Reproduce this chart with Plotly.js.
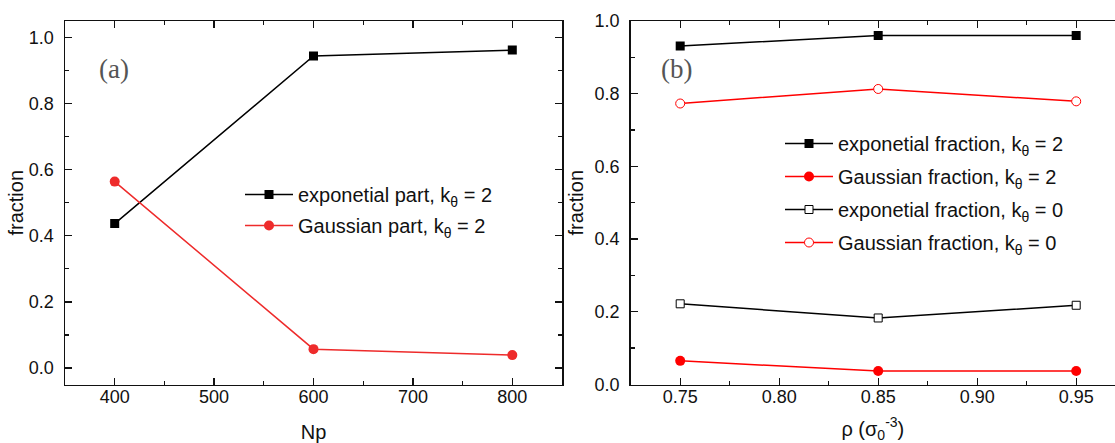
<!DOCTYPE html>
<html>
<head>
<meta charset="utf-8">
<script src="https://cdn.plot.ly/plotly-3.0.1.min.js"></script>
<style>html,body{margin:0;padding:0;background:#fff;}#chart{width:1115px;height:443px;}</style>
</head>
<body>
<div id="chart"></div>
<script>
// Panel (a)
const npValues = [400, 600, 800];
const expPartK2 = [0.437, 0.944, 0.962];
const gaussPartK2 = [0.564, 0.057, 0.039];

// Panel (b)
const rhoValues = [0.75, 0.85, 0.95];
const expFracK2 = [0.931, 0.960, 0.960];
const gaussFracK2 = [0.065, 0.037, 0.037];
const expFracK0 = [0.222, 0.183, 0.218];
const gaussFracK0 = [0.773, 0.813, 0.779];

const legendLabelsA = ["exponetial part, k<sub>θ</sub> = 2", "Gaussian part, k<sub>θ</sub> = 2"];
const legendLabelsB = [
  "exponetial fraction, k<sub>θ</sub> = 2",
  "Gaussian fraction, k<sub>θ</sub> = 2",
  "exponetial fraction, k<sub>θ</sub> = 0",
  "Gaussian fraction, k<sub>θ</sub> = 0"
];

const W = 1115, H = 443;
const redA = '#ee2b2b';
const redB = '#ff0000';

const traces = [
  {x: npValues, y: expPartK2, name: legendLabelsA[0], xaxis: 'x', yaxis: 'y', legend: 'legend', legendgroup: 'a1',
   mode: 'lines+markers', line: {color: '#000', width: 1.5}, marker: {symbol: 'square', size: 9, color: '#000'}},
  {x: npValues, y: gaussPartK2, name: legendLabelsA[1], xaxis: 'x', yaxis: 'y', legend: 'legend', legendgroup: 'a2',
   mode: 'lines+markers', line: {color: redA, width: 1.5}, marker: {symbol: 'circle', size: 10, color: redA}},
  {x: rhoValues, y: expFracK2, name: legendLabelsB[0], xaxis: 'x2', yaxis: 'y2', legend: 'legend2', legendgroup: 'b1',
   mode: 'lines+markers', line: {color: '#000', width: 1.5}, marker: {symbol: 'square', size: 9, color: '#000'}},
  {x: rhoValues, y: gaussFracK2, name: legendLabelsB[1], xaxis: 'x2', yaxis: 'y2', legend: 'legend2', legendgroup: 'b2',
   mode: 'lines+markers', line: {color: redB, width: 1.5}, marker: {symbol: 'circle', size: 10, color: redB}},
  {x: rhoValues, y: expFracK0, name: legendLabelsB[2], xaxis: 'x2', yaxis: 'y2', legend: 'legend2', legendgroup: 'b3',
   mode: 'lines+markers', line: {color: '#000', width: 1.5}, marker: {symbol: 'square', size: 8, color: '#fff', line: {color: '#000', width: 1}}},
  {x: rhoValues, y: gaussFracK0, name: legendLabelsB[3], xaxis: 'x2', yaxis: 'y2', legend: 'legend2', legendgroup: 'b4',
   mode: 'lines+markers', line: {color: redB, width: 1.5}, marker: {symbol: 'circle', size: 9, color: '#fff', line: {color: redB, width: 1}}}
];

const font = {family: 'Liberation Sans, Arial, sans-serif', size: 18, color: '#111'};
const legFont = {family: 'Liberation Sans, Arial, sans-serif', size: 20, color: '#111'};
const titleFont = {family: 'Liberation Sans, Arial, sans-serif', size: 20, color: '#111'};

function ax(extra) {
  return Object.assign({
    showgrid: false, zeroline: false, showline: true, linecolor: '#111', linewidth: 1.5,
    ticks: 'inside', ticklen: 7, tickwidth: 1.3, tickcolor: '#111',
    tickfont: font, ticklabelstandoff: 6, automargin: false
  }, extra);
}

const y0 = 1 - 384.5 / H, y1 = 1 - 21 / H;
const minorBase = {ticks: 'inside', ticklen: 4, tickwidth: 1.3, tickcolor: '#111'};

const layout = {
  width: W, height: H,
  margin: {l: 0, r: 0, t: 0, b: 0},
  paper_bgcolor: '#fff', plot_bgcolor: '#fff',
  font: font,
  showlegend: true,
  xaxis: ax({domain: [65 / W, 562 / W], range: [350, 850], tickvals: [400, 500, 600, 700, 800],
    minor: Object.assign({dtick: 50, tick0: 350}, minorBase), ticklabelstandoff: -5,
    mirror: 'ticks', anchor: 'y',
    title: {text: 'Np', font: titleFont, standoff: 19}}),
  yaxis: ax({domain: [y0, y1], range: [-0.05, 1.05], tickvals: [0, 0.2, 0.4, 0.6, 0.8, 1.0], tickformat: '.1f',
    minor: Object.assign({dtick: 0.1, tick0: 0}, minorBase),
    mirror: 'ticks', anchor: 'x',
    title: {text: 'fraction', font: titleFont, standoff: 0}}),
  xaxis2: ax({domain: [630.7 / W, 1], range: [0.725, 0.9696], tickvals: [0.75, 0.80, 0.85, 0.90, 0.95], tickformat: '.2f',
    minor: Object.assign({dtick: 0.025, tick0: 0.725}, minorBase), ticklabelstandoff: -5,
    mirror: 'ticks', anchor: 'y2',
    title: {text: 'ρ (σ<sub>0</sub><sup>-3</sup>)', font: titleFont, standoff: 17}}),
  yaxis2: ax({domain: [y0, y1], range: [0, 1], tickvals: [0, 0.2, 0.4, 0.6, 0.8, 1.0], tickformat: '.1f',
    minor: Object.assign({dtick: 0.1, tick0: 0}, minorBase),
    mirror: false, anchor: 'x2',
    title: {text: 'fraction', font: titleFont, standoff: 5}}),
  legend: {x: 240 / W, y: 1 - 175 / H, xref: 'paper', yref: 'paper', xanchor: 'left', yanchor: 'top',
    bgcolor: 'rgba(0,0,0,0)', font: legFont, itemwidth: 48, tracegroupgap: 2},
  legend2: {x: 780 / W, y: 1 - 124 / H, xref: 'paper', yref: 'paper', xanchor: 'left', yanchor: 'top',
    bgcolor: 'rgba(0,0,0,0)', font: legFont, itemwidth: 48, tracegroupgap: 4},
  annotations: [
    {text: '(a)', x: 97 / W, y: 1 - 69 / H, xref: 'paper', yref: 'paper', xanchor: 'left', yanchor: 'middle',
     showarrow: false, font: {family: 'Liberation Serif, DejaVu Serif, serif', size: 27, color: '#555'}},
    {text: '(b)', x: 659 / W, y: 1 - 69 / H, xref: 'paper', yref: 'paper', xanchor: 'left', yanchor: 'middle',
     showarrow: false, font: {family: 'Liberation Serif, DejaVu Serif, serif', size: 27, color: '#555'}}
  ]
};

Plotly.newPlot('chart', traces, layout, {displayModeBar: false, staticPlot: true});
</script>
</body>
</html>
